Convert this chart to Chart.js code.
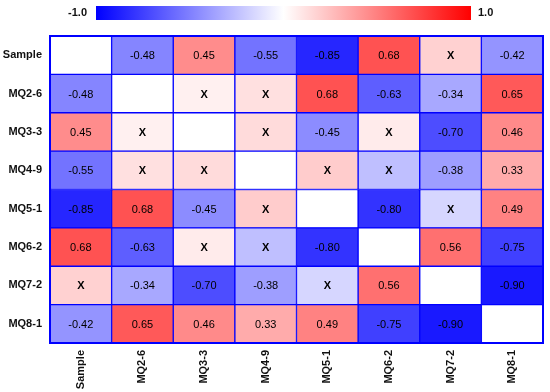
<!DOCTYPE html>
<html>
<head>
<meta charset="utf-8">
<script src="https://cdn.jsdelivr.net/npm/chart.js@4/dist/chart.umd.min.js"></script>
<style>
html,body{margin:0;padding:0;background:#fff;}
#wrap{width:550px;height:392px;position:relative;}
</style>
</head>
<body>
<div id="wrap"><canvas id="c"></canvas></div>
<script>
// Variables (same order for rows and columns)
const variables = ["Sample","MQ2-6","MQ3-3","MQ4-9","MQ5-1","MQ6-2","MQ7-2","MQ8-1"];
// Correlation matrix rows, top to bottom (null = diagonal, drawn blank)
const rowSample = [null, -0.48, 0.45, -0.55, -0.85, 0.68, 0.18, -0.42];
const rowMQ2_6  = [-0.48, null, 0.06, 0.12, 0.68, -0.63, -0.34, 0.65];
const rowMQ3_3  = [0.45, 0.06, null, 0.14, -0.45, 0.08, -0.70, 0.46];
const rowMQ4_9  = [-0.55, 0.12, 0.14, null, 0.20, -0.25, -0.38, 0.33];
const rowMQ5_1  = [-0.85, 0.68, -0.45, 0.20, null, -0.80, -0.16, 0.49];
const rowMQ6_2  = [0.68, -0.63, 0.08, -0.25, -0.80, null, 0.56, -0.75];
const rowMQ7_2  = [0.18, -0.34, -0.70, -0.38, -0.16, 0.56, null, -0.90];
const rowMQ8_1  = [-0.42, 0.65, 0.46, 0.33, 0.49, -0.75, -0.90, null];
const matrix = [rowSample,rowMQ2_6,rowMQ3_3,rowMQ4_9,rowMQ5_1,rowMQ6_2,rowMQ7_2,rowMQ8_1];
// Non-significant correlations are marked "X"
const significanceThreshold = 0.3;
const colorbarTicks = ["-1.0","1.0"];

function colorFor(v){
  if (v === null) return "#ffffff";
  const t = Math.min(1, Math.abs(v));
  const c = Math.round(255*(1-t));
  return v >= 0 ? `rgb(255,${c},${c})` : `rgb(${c},${c},255)`;
}
function labelFor(v){
  if (v === null) return "";
  return Math.abs(v) < significanceThreshold ? "X" : v.toFixed(2);
}

const n = variables.length;
// stacked datasets: dataset 0 is the bottom row
const datasets = [];
for (let d = 0; d < n; d++){
  const row = matrix[n-1-d];
  datasets.push({
    label: variables[n-1-d],
    data: row.map(() => 1),
    values: row,
    backgroundColor: row.map(colorFor),
    borderColor: "#0000ff",
    borderWidth: 1,
    borderSkipped: false,
    barPercentage: 1,
    categoryPercentage: 1
  });
}

const FONT = "'Liberation Sans', Arial, sans-serif";

const cellText = {
  id: "cellText",
  afterDatasetsDraw(chart){
    const ctx = chart.ctx;
    ctx.save();
    ctx.fillStyle = "#000";
    ctx.textAlign = "center";
    ctx.textBaseline = "middle";
    chart.data.datasets.forEach((ds, di) => {
      const meta = chart.getDatasetMeta(di);
      meta.data.forEach((el, i) => {
        const v = ds.values[i];
        const txt = labelFor(v);
        if (!txt) return;
        ctx.font = txt === "X" ? "bold 11px " + FONT : "11px " + FONT;
        const p = el.getCenterPoint();
        ctx.fillText(txt, p.x, p.y + 1);
      });
    });
    const a = chart.chartArea;
    ctx.strokeStyle = "#0000ff";
    ctx.lineWidth = 2;
    ctx.strokeRect(a.left, a.top, a.right - a.left, a.bottom - a.top);
    ctx.restore();
  }
};

const colorBar = {
  id: "colorBar",
  afterDraw(chart){
    const ctx = chart.ctx;
    const x0 = 96, x1 = 471, y0 = 6, h = 14;
    ctx.save();
    const g = ctx.createLinearGradient(x0, 0, x1, 0);
    g.addColorStop(0, colorFor(-1));
    g.addColorStop(0.5, "#ffffff");
    g.addColorStop(1, colorFor(1));
    ctx.fillStyle = g;
    ctx.fillRect(x0, y0, x1 - x0, h);
    ctx.fillStyle = "#111";
    ctx.font = "bold 11px " + FONT;
    ctx.textBaseline = "middle";
    ctx.textAlign = "right";
    ctx.fillText(colorbarTicks[0], x0 - 9, y0 + h/2);
    ctx.textAlign = "left";
    ctx.fillText(colorbarTicks[1], x1 + 7, y0 + h/2);
    ctx.restore();
  }
};

new Chart(document.getElementById("c"), {
  type: "bar",
  data: { labels: variables, datasets },
  options: {
    responsive: true,
    maintainAspectRatio: false,
    animation: false,
    layout: { padding: { top: 36, right: 7, left: 0, bottom: 0 } },
    plugins: { legend: { display: false }, tooltip: { enabled: false } },
    scales: {
      x: {
        stacked: true,
        grid: { display: false, drawTicks: false },
        border: { display: false },
        ticks: {
          minRotation: 90, maxRotation: 90, autoSkip: false, padding: 7,
          color: "#111",
          font: { family: FONT, size: 11, weight: "bold" }
        },
        afterFit(s){ s.height = 49; }
      },
      y: {
        stacked: true,
        min: 0, max: n,
        grid: { display: false, drawTicks: false },
        border: { display: false },
        afterBuildTicks(s){ s.ticks = variables.map((_, i) => ({ value: i + 0.5 })); },
        ticks: {
          autoSkip: false, padding: 8, color: "#111",
          font: { family: FONT, size: 11, weight: "bold" },
          callback(v){ return variables[n - 1 - Math.floor(v)]; }
        },
        afterFit(s){ s.width = 50; }
      }
    }
  },
  plugins: [cellText, colorBar]
});
</script>
</body>
</html>
